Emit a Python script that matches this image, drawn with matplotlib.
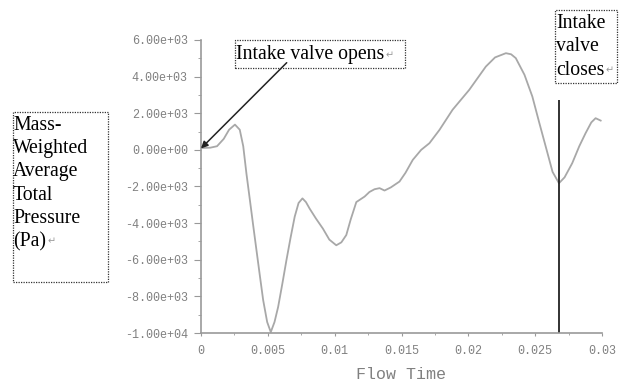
import matplotlib
matplotlib.use("Agg")
import matplotlib.pyplot as plt
from matplotlib.patches import Rectangle
from matplotlib.ticker import FuncFormatter, MultipleLocator

# values
flow_time = [0.0, 0.0007, 0.0012, 0.0017, 0.0021, 0.00254, 0.0029, 0.00316, 0.0034,
             0.00366, 0.0039, 0.00415, 0.0044, 0.00465, 0.00495, 0.00522, 0.0055,
             0.00577, 0.0061, 0.00639, 0.0067, 0.00701, 0.0073, 0.00759, 0.00785,
             0.00813, 0.0086, 0.00912, 0.0096, 0.01012, 0.0105, 0.01087, 0.0112,
             0.01162, 0.01224, 0.0126, 0.01298, 0.01336, 0.01373, 0.0142, 0.01485,
             0.0153, 0.01584, 0.01647, 0.01709, 0.01784, 0.01882, 0.02007, 0.02131,
             0.022, 0.02281, 0.0232, 0.02355, 0.0242, 0.02479, 0.0253, 0.02579,
             0.0263, 0.02678, 0.0272, 0.02777, 0.0283, 0.02877, 0.0292, 0.02952, 0.0299]
pressure = [100, 120, 200, 600, 1100, 1380, 1100, 200, -1300,
            -2750, -4100, -5480, -6850, -8200, -9400, -9950, -9400,
            -8580, -7250, -6030, -4800, -3650, -2900, -2650, -2850,
            -3210, -3750, -4300, -4900, -5210, -5050, -4650, -3800,
            -2850, -2550, -2300, -2150, -2090, -2220, -2050, -1730,
            -1250, -550, 0, 365, 1090, 2190, 3280, 4550,
            5050, 5280, 5220, 5010, 4100, 2910, 1500, 180,
            -1200, -1820, -1500, -730, 200, 910, 1500, 1730, 1600]

x_ticks = [0, 0.005, 0.01, 0.015, 0.02, 0.025, 0.03]
x_labels = ["0", "0.005", "0.01", "0.015", "0.02", "0.025", "0.03"]
y_ticks = [-10000, -8000, -6000, -4000, -2000, 0, 2000, 4000, 6000]

ylabel_lines = ["Mass-", "Weighted", "Average", "Total", "Pressure", "(Pa)"]
close_lines = ["Intake", "valve", "closes"]
open_text = "Intake valve opens"

valve_close_time = 0.0268
valve_close_top = 2700
valve_open_point = (0, 80)

W, H = 623, 385
fig = plt.figure(figsize=(W / 100, H / 100), dpi=100)
ax = fig.add_axes([201 / W, 1 - 333 / H, 401 / W, 293 / H])

ax.plot(flow_time, pressure, color="#a8a8a8", lw=1.3)
ax.vlines(valve_close_time, -10000, valve_close_top, color="#222222", lw=1.3)

ax.set_xlim(0, 0.03)
ax.set_ylim(-10000, 6000)
for s in ["top", "right"]:
    ax.spines[s].set_visible(False)
for s in ["left", "bottom"]:
    ax.spines[s].set_color("#999999")
    ax.spines[s].set_linewidth(1.2)

ax.set_xticks(x_ticks)
ax.set_xticklabels(x_labels)
ax.set_yticks(y_ticks)
ax.yaxis.set_major_formatter(FuncFormatter(lambda v, p: "%.2e" % v))
ax.xaxis.set_minor_locator(MultipleLocator(0.0025))
ax.yaxis.set_minor_locator(MultipleLocator(1000))
for lab in ax.get_xticklabels() + ax.get_yticklabels():
    lab.set_fontfamily("Liberation Mono")
    lab.set_fontsize(8.5)
    lab.set_color("#808080")
ax.tick_params(axis="y", which="major", length=5, color="#999999", pad=4.5)
ax.tick_params(axis="y", which="minor", length=2.5, color="#999999")
ax.tick_params(axis="x", which="major", length=2.5, color="#999999", pad=6)
ax.tick_params(axis="x", which="minor", length=1.5, color="#999999")
ax.set_xlabel("Flow Time", family="Liberation Mono", size=12, color="#808080", labelpad=7.5)

serif = "Liberation Serif"
step = 23.4


def box(x0, y0, x1, y1):
    fig.patches.append(Rectangle((x0 / W, 1 - y1 / H), (x1 - x0) / W, (y1 - y0) / H,
                                 transform=fig.transFigure, fill=False, ec="#333333",
                                 lw=0.9, ls=(0, (1, 1))))


def line(x, y, s):
    fig.text(x / W, 1 - y / H, s, family=serif, size=14.2, va="baseline", ha="left")


def return_mark(x, y):
    fig.text(x / W, 1 - y / H, "\u21b5", family="DejaVu Sans", size=7,
             color="#9a9a9a", ha="center", va="center")


box(235, 40, 405, 68)
line(236, 59.5, open_text)
return_mark(390, 55)

box(12.7, 111.7, 108.3, 281.7)
for i, s in enumerate(ylabel_lines):
    line(13, 129.5 + step * i, s)
return_mark(52, 241)

box(555, 10, 617, 83)
for i, s in enumerate(close_lines):
    line(556, 28 + step * i, s)
return_mark(610, 70)

ax.annotate("", xy=valve_open_point, xycoords="data",
            xytext=(286.7 / W, 1 - 62.7 / H), textcoords="figure fraction",
            arrowprops=dict(arrowstyle="-|>", color="#222222", lw=1.1,
                            shrinkA=0, shrinkB=0, mutation_scale=10))

fig.savefig("out.png", dpi=100)
